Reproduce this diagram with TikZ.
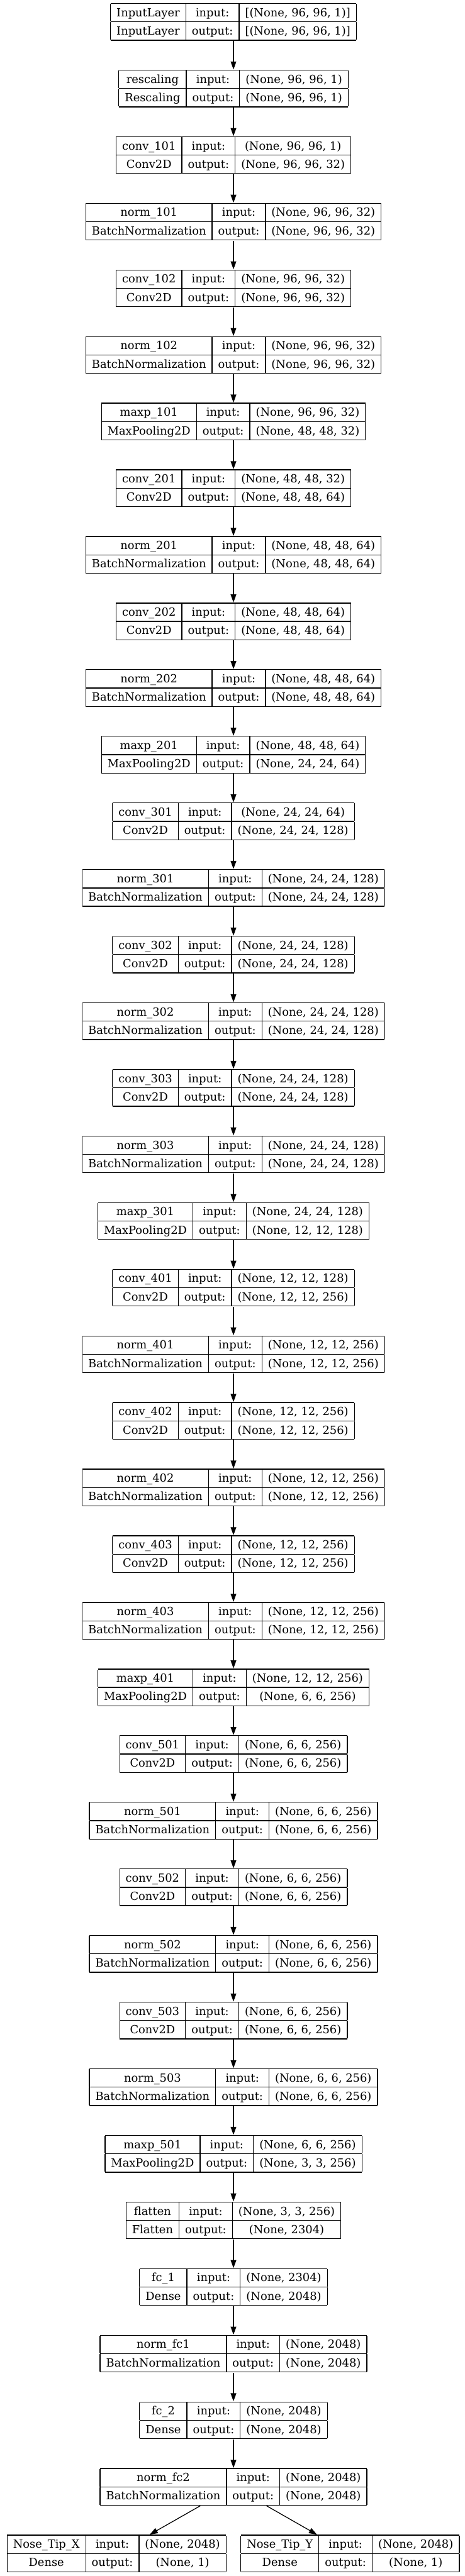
\documentclass[tikz,border=0pt]{standalone}
\usepackage{fontspec}
\setmainfont{DejaVu Serif}
\usetikzlibrary{positioning,arrows.meta}

\setlength{\arrayrulewidth}{1pt}
\setlength{\tabcolsep}{7.5pt}
\newcommand{\cellstrut}{\rule[-6.2pt]{0pt}{21.9pt}}
% name, class, input shape, output shape
\newcommand{\layertab}[4]{%
	\begin{tabular}{|c|c|c|}\hline
		\cellstrut#1 & input: & #3\\\hline
		\cellstrut#2 & output: & #4\\\hline
	\end{tabular}}

\tikzset{
	layer/.style={inner sep=0pt,font=\fontsize{14pt}{17pt}\selectfont},
	edge/.style={-{Triangle[length=10pt,width=7pt]},line width=1pt}
}

\begin{document}
\begin{tikzpicture}[node distance=83pt,on grid]
	\useasboundingbox (0,0) rectangle (578.25pt,-3209.25pt);

	\node[layer] (input) at (290.7pt,-27.2pt)
		{\layertab{InputLayer}{InputLayer}{[(None, 96, 96, 1)]}{[(None, 96, 96, 1)]}};
	\node[layer,below=of input] (rescaling)
		{\layertab{rescaling}{Rescaling}{(None, 96, 96, 1)}{(None, 96, 96, 1)}};

	% block 1
	\node[layer,below=of rescaling] (conv101)
		{\layertab{conv\_101}{Conv2D}{(None, 96, 96, 1)}{(None, 96, 96, 32)}};
	\node[layer,below=of conv101] (norm101)
		{\layertab{norm\_101}{BatchNormalization}{(None, 96, 96, 32)}{(None, 96, 96, 32)}};
	\node[layer,below=of norm101] (conv102)
		{\layertab{conv\_102}{Conv2D}{(None, 96, 96, 32)}{(None, 96, 96, 32)}};
	\node[layer,below=of conv102] (norm102)
		{\layertab{norm\_102}{BatchNormalization}{(None, 96, 96, 32)}{(None, 96, 96, 32)}};
	\node[layer,below=of norm102] (maxp101)
		{\layertab{maxp\_101}{MaxPooling2D}{(None, 96, 96, 32)}{(None, 48, 48, 32)}};

	% block 2
	\node[layer,below=of maxp101] (conv201)
		{\layertab{conv\_201}{Conv2D}{(None, 48, 48, 32)}{(None, 48, 48, 64)}};
	\node[layer,below=of conv201] (norm201)
		{\layertab{norm\_201}{BatchNormalization}{(None, 48, 48, 64)}{(None, 48, 48, 64)}};
	\node[layer,below=of norm201] (conv202)
		{\layertab{conv\_202}{Conv2D}{(None, 48, 48, 64)}{(None, 48, 48, 64)}};
	\node[layer,below=of conv202] (norm202)
		{\layertab{norm\_202}{BatchNormalization}{(None, 48, 48, 64)}{(None, 48, 48, 64)}};
	\node[layer,below=of norm202] (maxp201)
		{\layertab{maxp\_201}{MaxPooling2D}{(None, 48, 48, 64)}{(None, 24, 24, 64)}};

	% block 3
	\node[layer,below=of maxp201] (conv301)
		{\layertab{conv\_301}{Conv2D}{(None, 24, 24, 64)}{(None, 24, 24, 128)}};
	\node[layer,below=of conv301] (norm301)
		{\layertab{norm\_301}{BatchNormalization}{(None, 24, 24, 128)}{(None, 24, 24, 128)}};
	\node[layer,below=of norm301] (conv302)
		{\layertab{conv\_302}{Conv2D}{(None, 24, 24, 128)}{(None, 24, 24, 128)}};
	\node[layer,below=of conv302] (norm302)
		{\layertab{norm\_302}{BatchNormalization}{(None, 24, 24, 128)}{(None, 24, 24, 128)}};
	\node[layer,below=of norm302] (conv303)
		{\layertab{conv\_303}{Conv2D}{(None, 24, 24, 128)}{(None, 24, 24, 128)}};
	\node[layer,below=of conv303] (norm303)
		{\layertab{norm\_303}{BatchNormalization}{(None, 24, 24, 128)}{(None, 24, 24, 128)}};
	\node[layer,below=of norm303] (maxp301)
		{\layertab{maxp\_301}{MaxPooling2D}{(None, 24, 24, 128)}{(None, 12, 12, 128)}};

	% block 4
	\node[layer,below=of maxp301] (conv401)
		{\layertab{conv\_401}{Conv2D}{(None, 12, 12, 128)}{(None, 12, 12, 256)}};
	\node[layer,below=of conv401] (norm401)
		{\layertab{norm\_401}{BatchNormalization}{(None, 12, 12, 256)}{(None, 12, 12, 256)}};
	\node[layer,below=of norm401] (conv402)
		{\layertab{conv\_402}{Conv2D}{(None, 12, 12, 256)}{(None, 12, 12, 256)}};
	\node[layer,below=of conv402] (norm402)
		{\layertab{norm\_402}{BatchNormalization}{(None, 12, 12, 256)}{(None, 12, 12, 256)}};
	\node[layer,below=of norm402] (conv403)
		{\layertab{conv\_403}{Conv2D}{(None, 12, 12, 256)}{(None, 12, 12, 256)}};
	\node[layer,below=of conv403] (norm403)
		{\layertab{norm\_403}{BatchNormalization}{(None, 12, 12, 256)}{(None, 12, 12, 256)}};
	\node[layer,below=of norm403] (maxp401)
		{\layertab{maxp\_401}{MaxPooling2D}{(None, 12, 12, 256)}{(None, 6, 6, 256)}};

	% block 5
	\node[layer,below=of maxp401] (conv501)
		{\layertab{conv\_501}{Conv2D}{(None, 6, 6, 256)}{(None, 6, 6, 256)}};
	\node[layer,below=of conv501] (norm501)
		{\layertab{norm\_501}{BatchNormalization}{(None, 6, 6, 256)}{(None, 6, 6, 256)}};
	\node[layer,below=of norm501] (conv502)
		{\layertab{conv\_502}{Conv2D}{(None, 6, 6, 256)}{(None, 6, 6, 256)}};
	\node[layer,below=of conv502] (norm502)
		{\layertab{norm\_502}{BatchNormalization}{(None, 6, 6, 256)}{(None, 6, 6, 256)}};
	\node[layer,below=of norm502] (conv503)
		{\layertab{conv\_503}{Conv2D}{(None, 6, 6, 256)}{(None, 6, 6, 256)}};
	\node[layer,below=of conv503] (norm503)
		{\layertab{norm\_503}{BatchNormalization}{(None, 6, 6, 256)}{(None, 6, 6, 256)}};
	\node[layer,below=of norm503] (maxp501)
		{\layertab{maxp\_501}{MaxPooling2D}{(None, 6, 6, 256)}{(None, 3, 3, 256)}};

	% dense head
	\node[layer,below=of maxp501] (flatten)
		{\layertab{flatten}{Flatten}{(None, 3, 3, 256)}{(None, 2304)}};
	\node[layer,below=of flatten] (fc1)
		{\layertab{fc\_1}{Dense}{(None, 2304)}{(None, 2048)}};
	\node[layer,below=of fc1] (normfc1)
		{\layertab{norm\_fc1}{BatchNormalization}{(None, 2048)}{(None, 2048)}};
	\node[layer,below=of normfc1] (fc2)
		{\layertab{fc\_2}{Dense}{(None, 2048)}{(None, 2048)}};
	\node[layer,below=of fc2] (normfc2)
		{\layertab{norm\_fc2}{BatchNormalization}{(None, 2048)}{(None, 2048)}};

	\coordinate[below=of normfc2] (split);
	\node[layer,anchor=east] (nosex) at ([xshift=-9pt]split)
		{\layertab{Nose\_Tip\_X}{Dense}{(None, 2048)}{(None, 1)}};
	\node[layer,anchor=west] (nosey) at ([xshift=9pt]split)
		{\layertab{Nose\_Tip\_Y}{Dense}{(None, 2048)}{(None, 1)}};

	\draw[edge] (input) -- (rescaling);
	\draw[edge] (rescaling) -- (conv101);
	\draw[edge] (conv101) -- (norm101);
	\draw[edge] (norm101) -- (conv102);
	\draw[edge] (conv102) -- (norm102);
	\draw[edge] (norm102) -- (maxp101);
	\draw[edge] (maxp101) -- (conv201);
	\draw[edge] (conv201) -- (norm201);
	\draw[edge] (norm201) -- (conv202);
	\draw[edge] (conv202) -- (norm202);
	\draw[edge] (norm202) -- (maxp201);
	\draw[edge] (maxp201) -- (conv301);
	\draw[edge] (conv301) -- (norm301);
	\draw[edge] (norm301) -- (conv302);
	\draw[edge] (conv302) -- (norm302);
	\draw[edge] (norm302) -- (conv303);
	\draw[edge] (conv303) -- (norm303);
	\draw[edge] (norm303) -- (maxp301);
	\draw[edge] (maxp301) -- (conv401);
	\draw[edge] (conv401) -- (norm401);
	\draw[edge] (norm401) -- (conv402);
	\draw[edge] (conv402) -- (norm402);
	\draw[edge] (norm402) -- (conv403);
	\draw[edge] (conv403) -- (norm403);
	\draw[edge] (norm403) -- (maxp401);
	\draw[edge] (maxp401) -- (conv501);
	\draw[edge] (conv501) -- (norm501);
	\draw[edge] (norm501) -- (conv502);
	\draw[edge] (conv502) -- (norm502);
	\draw[edge] (norm502) -- (conv503);
	\draw[edge] (conv503) -- (norm503);
	\draw[edge] (norm503) -- (maxp501);
	\draw[edge] (maxp501) -- (flatten);
	\draw[edge] (flatten) -- (fc1);
	\draw[edge] (fc1) -- (normfc1);
	\draw[edge] (normfc1) -- (fc2);
	\draw[edge] (fc2) -- (normfc2);
	\draw[edge] (normfc2) -- (nosex);
	\draw[edge] (normfc2) -- (nosey);
\end{tikzpicture}
\end{document}
